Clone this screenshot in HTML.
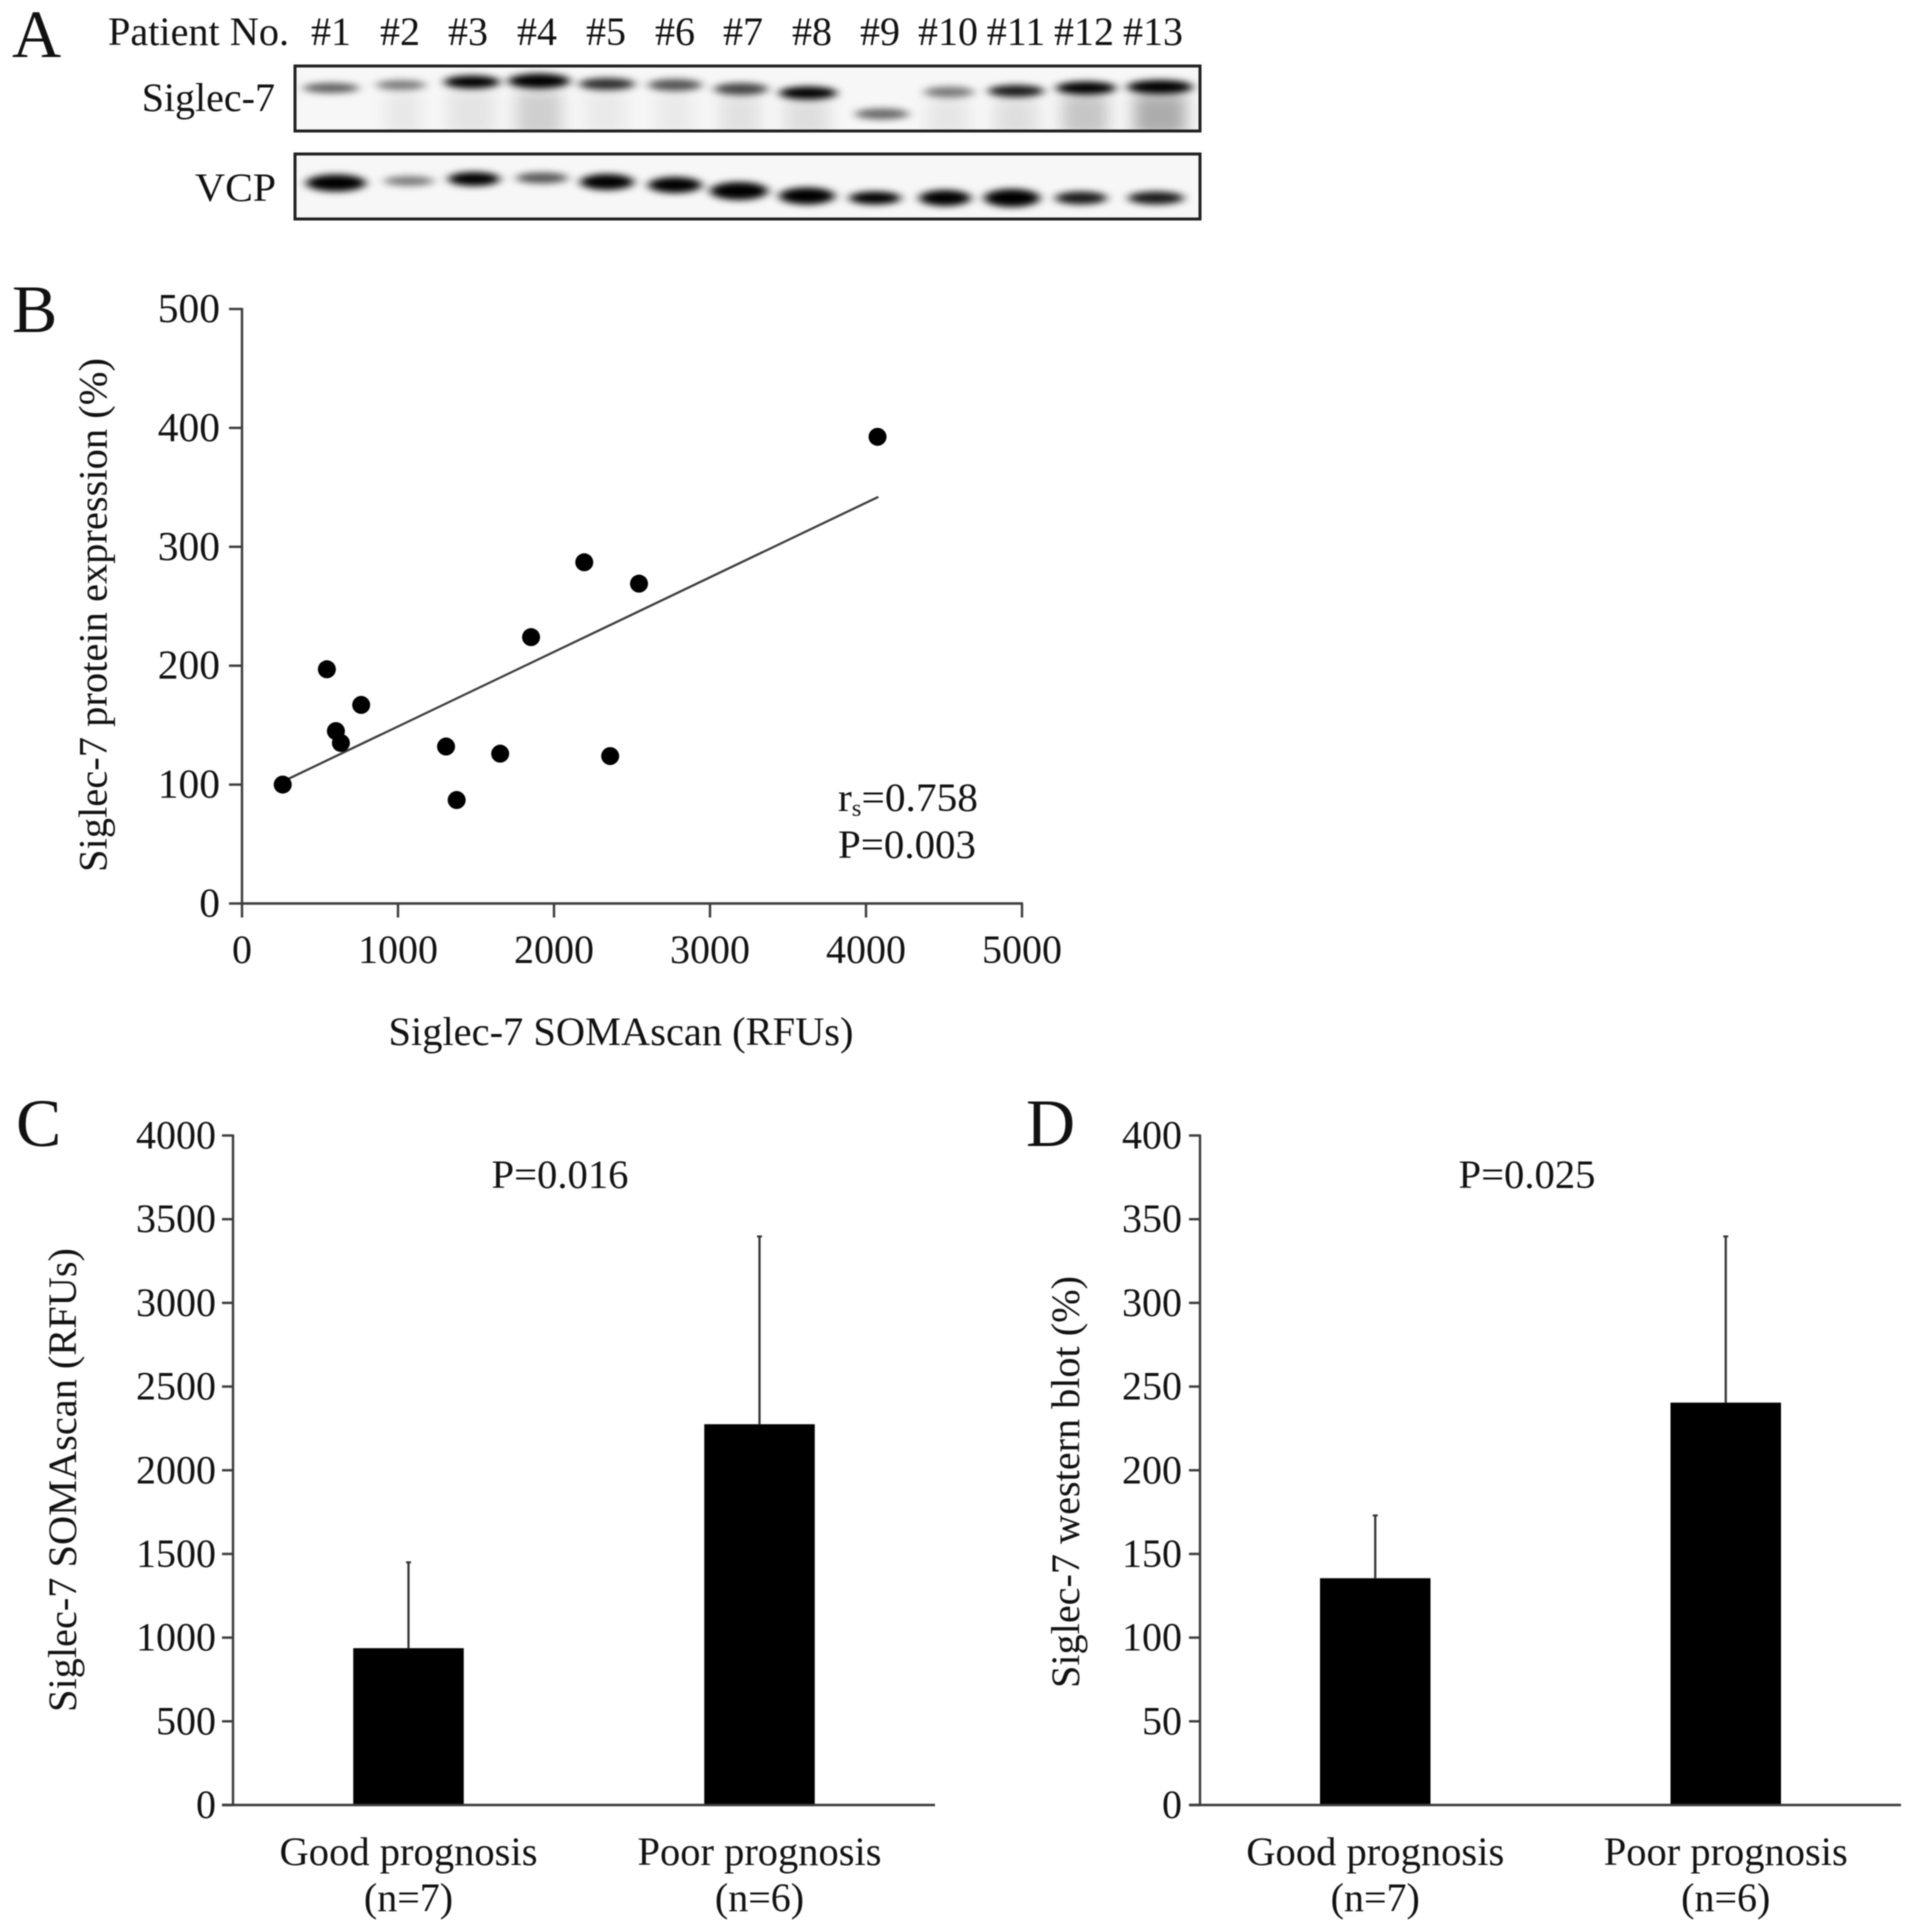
<!DOCTYPE html>
<html>
<head>
<meta charset="utf-8">
<title>Siglec-7 figure</title>
<style>
html,body{margin:0;padding:0;background:#fff;}
svg{display:block;filter:blur(0.55px);}
text{font-family:"Liberation Serif",serif;font-size:40px;fill:#111;}
.letter{font-size:68px;fill:#111;}
</style>
</head>
<body>
<svg id="figure" xmlns="http://www.w3.org/2000/svg" width="1913" height="1932" viewBox="0 0 1913 1932">
<defs>
<filter id="bandBlur" x="-30%" y="-120%" width="160%" height="340%"><feGaussianBlur stdDeviation="5 3.4"/></filter>
<filter id="smearBlur" x="-40%" y="-40%" width="180%" height="180%"><feGaussianBlur stdDeviation="8 7"/></filter>
<clipPath id="clipA"><rect x="295" y="66" width="905" height="65"/></clipPath>
<clipPath id="clipB"><rect x="295" y="154" width="905" height="65"/></clipPath>
</defs>
<rect width="1913" height="1932" fill="#fff"/>

<!-- Panel A -->
<g>
<text class="letter" x="12" y="57">A</text>
<text x="108" y="45" textLength="181" lengthAdjust="spacingAndGlyphs">Patient No.</text>
<g text-anchor="middle">
<text x="331" y="45">#1</text>
<text x="400" y="45">#2</text>
<text x="468" y="45">#3</text>
<text x="537" y="45">#4</text>
<text x="606" y="45">#5</text>
<text x="675" y="45">#6</text>
<text x="743" y="45">#7</text>
<text x="812" y="45">#8</text>
<text x="880" y="45">#9</text>
<text x="948" y="45">#10</text>
<text x="1016" y="45">#11</text>
<text x="1084" y="45">#12</text>
<text x="1153" y="45">#13</text>
</g>
<text x="275" y="111" text-anchor="end">Siglec-7</text>
<text x="276" y="201" text-anchor="end" textLength="81" lengthAdjust="spacingAndGlyphs">VCP</text>

<g>
<rect x="295" y="66" width="905" height="65" fill="#f7f7f7"/>
<g clip-path="url(#clipA)">
<g filter="url(#smearBlur)" fill="#000">
<rect x="385" y="92" width="36" height="45" opacity=".06"/>
<rect x="448" y="90" width="46" height="45" opacity=".08"/>
<rect x="516" y="90" width="46" height="50" opacity=".16"/>
<rect x="585" y="90" width="42" height="45" opacity=".05"/>
<rect x="655" y="92" width="38" height="45" opacity=".05"/>
<rect x="720" y="94" width="40" height="45" opacity=".09"/>
<rect x="785" y="98" width="44" height="40" opacity=".1"/>
<rect x="928" y="98" width="40" height="40" opacity=".07"/>
<rect x="995" y="98" width="42" height="40" opacity=".1"/>
<rect x="1062" y="94" width="46" height="42" opacity=".2"/>
<rect x="1134" y="94" width="52" height="42" opacity=".3"/>
</g>
<g filter="url(#bandBlur)" fill="#000">
<ellipse cx="331" cy="88" rx="28" ry="5" opacity=".62"/>
<ellipse cx="401" cy="85" rx="25" ry="5" opacity=".5"/>
<ellipse cx="472" cy="82" rx="28" ry="6.5" opacity="1"/>
<ellipse cx="539" cy="81" rx="31" ry="7.5" opacity="1"/>
<ellipse cx="607" cy="84" rx="28" ry="6" opacity=".82"/>
<ellipse cx="675" cy="85" rx="27" ry="6" opacity=".66"/>
<ellipse cx="741" cy="89" rx="27" ry="6" opacity=".72"/>
<ellipse cx="808" cy="93" rx="29" ry="6.5" opacity="1"/>
<ellipse cx="882" cy="114" rx="27" ry="5.5" opacity=".58"/>
<ellipse cx="949" cy="92" rx="25" ry="5.5" opacity=".5"/>
<ellipse cx="1016" cy="91" rx="28" ry="6" opacity=".9"/>
<ellipse cx="1086" cy="88" rx="30" ry="6.5" opacity="1"/>
<ellipse cx="1160" cy="87" rx="33" ry="7" opacity="1"/>
</g>
</g>
<rect x="295" y="66" width="905" height="65" fill="none" stroke="#222" stroke-width="3"/>
</g>

<g>
<rect x="295" y="154" width="905" height="65" fill="#f7f7f7"/>
<g clip-path="url(#clipB)">
<g filter="url(#bandBlur)" fill="#000">
<ellipse cx="336" cy="183" rx="30" ry="8.5" opacity="1"/>
<ellipse cx="409" cy="181" rx="25" ry="5" opacity=".5"/>
<ellipse cx="474" cy="179" rx="26" ry="7" opacity="1"/>
<ellipse cx="542" cy="178" rx="26" ry="5.5" opacity=".65"/>
<ellipse cx="607" cy="182" rx="27" ry="8" opacity="1"/>
<ellipse cx="675" cy="185" rx="27" ry="8" opacity="1"/>
<ellipse cx="739" cy="191" rx="29" ry="9" opacity="1"/>
<ellipse cx="807" cy="196" rx="28" ry="8.5" opacity="1"/>
<ellipse cx="875" cy="198" rx="26" ry="6.5" opacity="1"/>
<ellipse cx="945" cy="198" rx="26" ry="8" opacity="1"/>
<ellipse cx="1012" cy="198" rx="28" ry="9" opacity="1"/>
<ellipse cx="1081" cy="198" rx="26" ry="6.5" opacity=".9"/>
<ellipse cx="1156" cy="198" rx="28" ry="6.5" opacity=".9"/>
</g>
</g>
<rect x="295" y="154" width="905" height="65" fill="none" stroke="#222" stroke-width="3"/>
</g>
</g>

<!-- Panel B -->
<g id="panelB">
<text class="letter" x="12" y="332">B</text>
<text transform="translate(106.5,615) rotate(-90)" text-anchor="middle" textLength="514" lengthAdjust="spacingAndGlyphs">Siglec-7 protein expression (%)</text>
<text x="621" y="1045" text-anchor="middle" textLength="465" lengthAdjust="spacingAndGlyphs">Siglec-7 SOMAscan (RFUs)</text>
<text x="838" y="811" textLength="140" lengthAdjust="spacingAndGlyphs">r<tspan font-size="24" dy="5">s</tspan><tspan dy="-5">=0.758</tspan></text>
<text x="838" y="858" textLength="138" lengthAdjust="spacingAndGlyphs">P=0.003</text>
</g>

<!-- Panel C -->
<g id="panelC">
<text class="letter" x="16" y="1146">C</text>
<text transform="translate(76,1480) rotate(-90)" text-anchor="middle" textLength="464" lengthAdjust="spacingAndGlyphs">Siglec-7 SOMAscan (RFUs)</text>
<text x="560" y="1188" text-anchor="middle" textLength="137" lengthAdjust="spacingAndGlyphs">P=0.016</text>
</g>

<!-- Panel D -->
<g id="panelD">
<text class="letter" x="1026" y="1146">D</text>
<text transform="translate(1079,1482) rotate(-90)" text-anchor="middle" textLength="412" lengthAdjust="spacingAndGlyphs">Siglec-7 western blot (%)</text>
<text x="1527" y="1188" text-anchor="middle" textLength="137" lengthAdjust="spacingAndGlyphs">P=0.025</text>
</g>
</svg>

<script>
// Panel B data
var scatterXTicks = [0, 1000, 2000, 3000, 4000, 5000];
var scatterYTicks = [0, 100, 200, 300, 400, 500];
var scatterSomascan = [261, 544, 602, 634, 764, 1308, 1376, 1655, 1853, 2194, 2360, 2545, 4074];
var scatterProtein = [100, 197, 145, 135, 167, 132, 87, 126, 224, 287, 124, 269, 392.5];
var trendSomascan = [292, 4079];
var trendProtein = [104.5, 342];

// Panel C data
var categoriesC = ['Good prognosis', 'Poor prognosis'];
var groupSizesC = ['(n=7)', '(n=6)'];
var meansC = [937, 2275];
var errorTopsC = [1450, 3397];
var ticksC = [0, 500, 1000, 1500, 2000, 2500, 3000, 3500, 4000];

// Panel D data
var categoriesD = ['Good prognosis', 'Poor prognosis'];
var groupSizesD = ['(n=7)', '(n=6)'];
var meansD = [135.5, 240.4];
var errorTopsD = [173, 339.7];
var ticksD = [0, 50, 100, 150, 200, 250, 300, 350, 400];

var NS = 'http://www.w3.org/2000/svg';
var AXIS = '#3c3c3c';

function make(parent, tag, attrs) {
  var el = document.createElementNS(NS, tag);
  for (var k in attrs) el.setAttribute(k, attrs[k]);
  parent.appendChild(el);
  return el;
}
function line(parent, x1, y1, x2, y2, color, width) {
  return make(parent, 'line', {x1: x1, y1: y1, x2: x2, y2: y2, stroke: color, 'stroke-width': width});
}
function label(parent, x, y, anchor, str) {
  var t = make(parent, 'text', {x: x, y: y, 'text-anchor': anchor});
  t.textContent = str;
  return t;
}

// Scatter
(function () {
  var g = document.getElementById('panelB');
  var left = 242, right = 1022, top = 309, bottom = 903.5;
  var sx = function (v) { return left + v * (right - left) / 5000; };
  var sy = function (v) { return bottom - v * (bottom - top) / 500; };

  var yAxis = line(g, left, top - 1, left, bottom + 1, AXIS, 2.4);
  
  
  var xAxis = line(g, left - 1, bottom, right + 1, bottom, AXIS, 2.4);
  
  

  scatterYTicks.forEach(function (v) {
    var tick = line(g, 229, sy(v), left, sy(v), AXIS, 2.4);
    
    
    var tl = label(g, 220, sy(v) + 13, 'end', String(v));
    tl.setAttribute('font-size', '41.5');
    tl.style.fontSize = '41.5px';
    
    
  });
  scatterXTicks.forEach(function (v) {
    var tick = line(g, sx(v), bottom, sx(v), bottom + 14, AXIS, 2.4);
    
    
    var tl = label(g, sx(v), 963, 'middle', String(v));
    
    
  });

  var trend = line(g, sx(trendSomascan[0]), sy(trendProtein[0]), sx(trendSomascan[1]), sy(trendProtein[1]), '#3c3c3c', 2.2);
  
  

  scatterSomascan.forEach(function (v, i) {
    var dot = make(g, 'circle', {cx: sx(v), cy: sy(scatterProtein[i]), r: 9, fill: '#000'});
    
    
  });
})();

// Bar charts
function barChart(id, axisX, right, maxVal, ticks, cats, sizes, means, errs, suffix, labelRight) {
  var g = document.getElementById(id);
  var top = 1135.5, bottom = 1805;
  var sy = function (v) { return bottom - v * (bottom - top) / maxVal; };
  var band = (right - axisX) / cats.length;
  var cx = function (i) { return axisX + band * (i + 0.5); };
  var barW = 110.5;

  means.forEach(function (m, i) {
    var err = line(g, cx(i), sy(errs[i]), cx(i), sy(m), '#333', 2.2);
    
    
    var cap = line(g, cx(i) - 2.5, sy(errs[i]), cx(i) + 2.5, sy(errs[i]), '#333', 2);
    
    
    var bar = make(g, 'rect', {x: cx(i) - barW / 2, y: sy(m), width: barW, height: bottom - sy(m), fill: '#000'});
    
    
    var c1 = label(g, cx(i), 1865, 'middle', cats[i]);
    c1.setAttribute('textLength', cats[i].indexOf('Good') === 0 ? 258 : 244);
    c1.setAttribute('lengthAdjust', 'spacingAndGlyphs');
    
    
    var c2 = label(g, cx(i), 1911, 'middle', sizes[i]);
    
    
  });

  var yAxis = line(g, axisX, top - 1, axisX, bottom + 1, AXIS, 2.4);
  
  
  var xAxis = line(g, axisX - 11, bottom, right, bottom, AXIS, 2.4);
  
  

  ticks.forEach(function (v) {
    var tick = line(g, axisX - 11, sy(v), axisX, sy(v), AXIS, 2.4);
    
    
    var tl = label(g, labelRight, sy(v) + 13, 'end', String(v));
    
    
  });
}
barChart('panelC', 233, 935, 4000, ticksC, categoriesC, groupSizesC, meansC, errorTopsC, 'c', 216);
barChart('panelD', 1200, 1901, 400, ticksD, categoriesD, groupSizesD, meansD, errorTopsD, 'd', 1182);
</script>
</body>
</html>
